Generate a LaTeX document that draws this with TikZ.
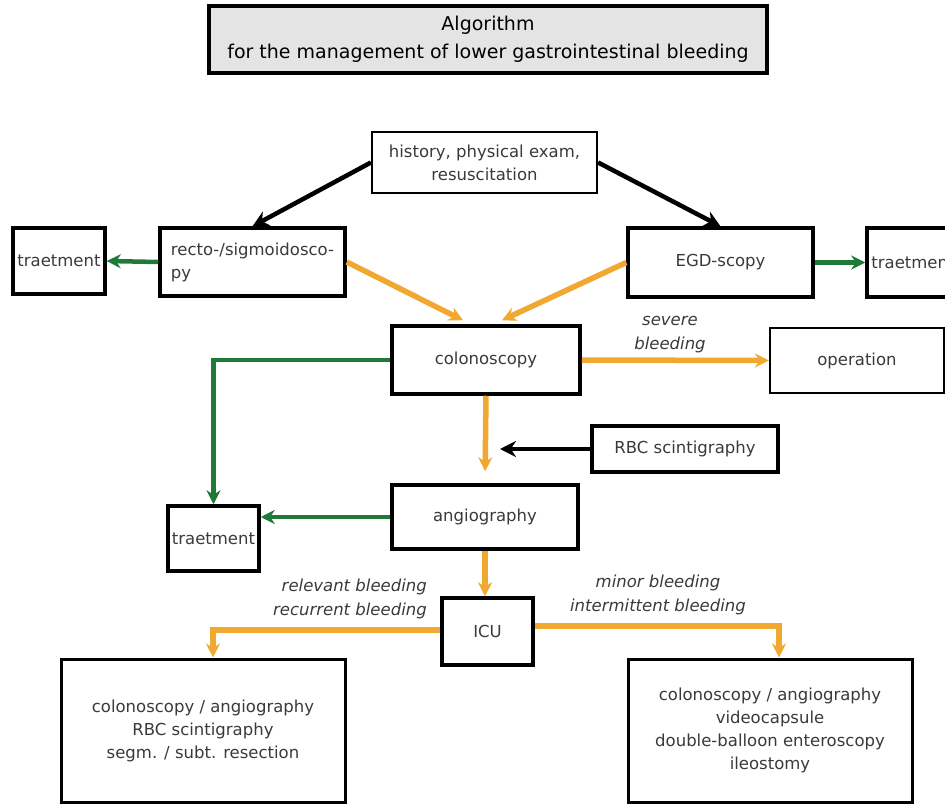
\documentclass[tikz,border=0pt]{standalone}
\usepackage{fontspec}
\setmainfont{DejaVu Sans}
\usetikzlibrary{arrows.meta,calc}
\definecolor{orng}{HTML}{F0A830}
\definecolor{grn}{HTML}{1F7A3A}
\definecolor{txtc}{HTML}{3A3A3A}
\definecolor{titlebg}{HTML}{E4E4E4}
\tikzset{
  box/.style={draw=black, line width=3.5pt, fill=white, text=txtc,
    font=\fontsize{16.5}{23}\selectfont, align=center, inner sep=0pt},
  thinbox/.style={box, line width=2.2pt},
  lbl/.style={text=txtc, font=\fontsize{16.5}{24}\selectfont\itshape, inner sep=0pt},
  blk/.style={draw=black, line width=4.5pt, -{Stealth[length=16pt,width=16pt]}},
  grnarr/.style={draw=grn, line width=4.5pt, -{Stealth[length=14pt,width=14pt]}},
  org/.style={draw=orng, line width=5.5pt, -{Stealth[length=14pt,width=14pt]}}
}
\begin{document}
\begin{tikzpicture}[x=1pt,y=-1pt]
\useasboundingbox (0,0) rectangle (945,805);
\clip (0,0) rectangle (945,805);
\node[box, fill=titlebg, text=black, line width=4pt, minimum width=558pt, minimum height=67pt,
  font=\fontsize{19}{28}\selectfont] (title) at (488,39.5)
  {Algorithm\\for the management of lower gastrointestinal bleeding};
\node[thinbox, minimum width=225pt, minimum height=61pt] (hist) at (484.5,162.5)
  {history, physical exam,\\resuscitation};
\node[box, minimum width=185pt, minimum height=68pt, align=left] (recto) at (252.5,262)
  {recto-/sigmoidosco-\\py};
\node[box, minimum width=92pt, minimum height=66pt] (tl) at (59,261) {traetment};
\node[box, minimum width=185pt, minimum height=69pt] (egd) at (720.5,262.5) {EGD-scopy};
\node[box, minimum width=92pt, minimum height=69pt] (tr) at (913,262.5) {traetment};
\node[box, minimum width=188pt, minimum height=68pt] (colon) at (486,360) {colonoscopy};
\node[thinbox, minimum width=174pt, minimum height=65pt] (op) at (857,360.5) {operation};
\node[box, minimum width=186pt, minimum height=46pt] (rbc) at (685,449) {RBC scintigraphy};
\node[box, minimum width=91pt, minimum height=65pt] (tm) at (213.5,538.5) {traetment};
\node[box, minimum width=186pt, minimum height=64pt] (angio) at (485,517) {angiography};
\node[box, minimum width=91pt, minimum height=67pt] (icu) at (487.5,631.5) {ICU};
\node[box, line width=3pt, minimum width=284pt, minimum height=143pt] (bl) at (203,730.5)
  {colonoscopy / angiography\\RBC scintigraphy\\segm. / subt. resection};
\node[box, line width=3pt, minimum width=284pt, minimum height=143pt] (br) at (770,730.5)
  {colonoscopy / angiography\\videocapsule\\double-balloon enteroscopy\\ileostomy};
\coordinate (rbcend) at (500,449);
% connectors
\draw[blk] (hist.west) -- (recto.north);
\draw[blk] (hist.east) -- (egd.north);
\draw[grnarr] (recto.west) -- (tl.east);
\draw[grnarr] (egd.east) -- (tr.west);
\draw[org] (recto.east) -- ($(colon.north)+(-23,-4)$);
\draw[org] (egd.west) -- ($(colon.north)+(16,-4)$);
\draw[org] (colon.east) -- (op.west);
\draw[grnarr] (colon.west) -| (tm.north);
\draw[org, shorten >=12pt] (colon.south) -- (angio.north);
\draw[blk] (rbc.west) -- (rbcend);
\draw[grnarr] (angio.west) -- (angio.west -| tm.east);
\draw[org] (angio.south) -- (angio.south |- icu.north);
\draw[org] ($(icu.west)+(0,-1.5)$) -| ($(bl.north)+(10,0)$);
\draw[org] ($(icu.east)+(0,-5.5)$) -| ($(br.north)+(9,0)$);
% labels
\node[lbl, align=center] (l1) at (670,335) {severe\\bleeding};
\node[lbl, align=right, anchor=east] (l2) at (427,599) {relevant bleeding\\recurrent bleeding};
\node[lbl, align=center] (l3) at (658,595) {minor bleeding\\intermittent bleeding};
\end{tikzpicture}
\end{document}
